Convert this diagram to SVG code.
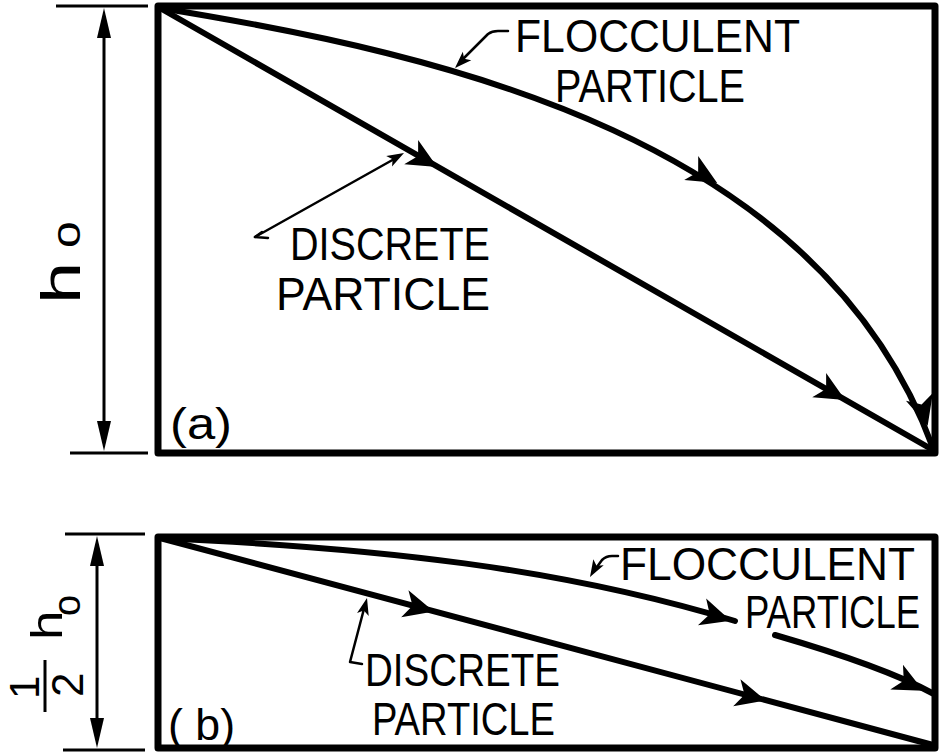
<svg xmlns="http://www.w3.org/2000/svg" width="940" height="756" viewBox="0 0 940 756">
<style>
.frame{fill:none;stroke:#000;stroke-width:7;stroke-linejoin:round}
.dim{fill:none;stroke:#000;stroke-width:3}
.path{fill:none;stroke:#000;stroke-width:6;stroke-linecap:round}
.lead{fill:none;stroke:#000;stroke-width:2.5;stroke-linecap:round;stroke-linejoin:round}
.lbl{font-family:"Liberation Sans",Arial,sans-serif;font-size:46px;fill:#000}
.sym{font-family:"Liberation Sans",Arial,sans-serif;fill:#000}
</style>
<defs>
<path id="ah" d="M6,0 L-24,-14 L-16,0 L-24,14 Z" fill="#000"/>
<path id="sah" d="M0,0 L-17,-6 L-13,0 L-17,6 Z" fill="#000"/>
<path id="dah" d="M0,0 L-30,-7 L-30,7 Z" fill="#000"/>
</defs>

<g id="panel-a">
<rect class="frame" x="158" y="6" width="777" height="447"/>
<text class="sym" font-size="44" x="170" y="439" textLength="62" lengthAdjust="spacingAndGlyphs">(a)</text>
</g>

<g id="dimension-a">
<line class="dim" x1="56" y1="6" x2="148" y2="6"/>
<line class="dim" x1="70" y1="453" x2="148" y2="453"/>
<line class="dim" x1="104" y1="20" x2="104" y2="440"/>
<use href="#dah" transform="translate(104,8) rotate(-90)"/>
<use href="#dah" transform="translate(104,451) rotate(90)"/>
<text class="sym" font-size="56" transform="translate(80,304) rotate(-90) scale(1.35,1)">h</text>
<text class="sym" font-size="40" transform="translate(80,248) rotate(-90) scale(1.2,1)">o</text>
</g>

<g id="discrete-a">
<line class="path" x1="160" y1="8" x2="933" y2="450"/>
<use href="#ah" transform="translate(432,164) rotate(29.8)"/>
<use href="#ah" transform="translate(840,397) rotate(29.8)"/>
<polyline class="lead" points="262,232 255,237 268,238"/>
<line class="lead" x1="255" y1="237" x2="396" y2="158"/>
<use href="#sah" transform="translate(404,153) rotate(-29)"/>
<text class="lbl" x="290" y="260" textLength="200" lengthAdjust="spacingAndGlyphs">DISCRETE</text>
<text class="lbl" x="276" y="310" textLength="214" lengthAdjust="spacingAndGlyphs">PARTICLE</text>
</g>

<g id="flocculent-a">
<path class="path" d="M160,8 C450,55 820,140 933,448"/>
<use href="#ah" transform="translate(712,180) rotate(30)"/>
<use href="#ah" transform="translate(926,420) rotate(74)"/>
<path class="lead" d="M460,62 L488,34 Q492,31 498,31 L508,31"/>
<use href="#sah" transform="translate(455,68) rotate(135)"/>
<text class="lbl" x="515" y="52" textLength="285" lengthAdjust="spacingAndGlyphs">FLOCCULENT</text>
<text class="lbl" x="555" y="102" textLength="190" lengthAdjust="spacingAndGlyphs">PARTICLE</text>
</g>

<g id="panel-b">
<rect class="frame" x="158" y="537" width="777" height="211"/>
<text class="sym" font-size="44" x="168" y="740" textLength="67" lengthAdjust="spacingAndGlyphs">( b)</text>
</g>

<g id="dimension-b">
<line class="dim" x1="65" y1="534" x2="145" y2="534"/>
<line class="dim" x1="63" y1="750" x2="145" y2="750"/>
<line class="dim" x1="97" y1="550" x2="97" y2="735"/>
<use href="#dah" transform="translate(97,536) rotate(-90)"/>
<use href="#dah" transform="translate(97,748) rotate(90)"/>
<text class="sym" font-size="42" transform="translate(39,699) rotate(-90)">1</text>
<line class="dim" x1="45" y1="660" x2="45" y2="712"/>
<text class="sym" font-size="44" transform="translate(83,697) rotate(-90)">2</text>
<text class="sym" font-size="44" transform="translate(62,640) rotate(-90) scale(1.2,1)">h</text>
<text class="sym" font-size="38" transform="translate(80,616) rotate(-90)">o</text>
</g>

<g id="discrete-b">
<line class="path" x1="160" y1="538" x2="933" y2="745"/>
<use href="#ah" transform="translate(428,610) rotate(15)"/>
<use href="#ah" transform="translate(760,699) rotate(15)"/>
<polyline class="lead" points="362,664 350,662 365,605"/>
<use href="#sah" transform="translate(367,598) rotate(-76)"/>
<text class="lbl" x="365" y="686" textLength="195" lengthAdjust="spacingAndGlyphs">DISCRETE</text>
<text class="lbl" x="372" y="735" textLength="183" lengthAdjust="spacingAndGlyphs">PARTICLE</text>
</g>

<g id="flocculent-b">
<path class="path" d="M160,538 C380,548 560,568 735,621"/>
<path class="path" d="M775,635 C830,651 890,670 932,693"/>
<use href="#ah" transform="translate(725,619) rotate(17)"/>
<use href="#ah" transform="translate(918,688) rotate(27)"/>
<path class="lead" d="M594,571 L602,560 Q606,556 612,556 L618,556"/>
<use href="#sah" transform="translate(590,577) rotate(120)"/>
<text class="lbl" x="620" y="580" textLength="295" lengthAdjust="spacingAndGlyphs">FLOCCULENT</text>
<text class="lbl" x="745" y="628" textLength="175" lengthAdjust="spacingAndGlyphs">PARTICLE</text>
</g>
</svg>
